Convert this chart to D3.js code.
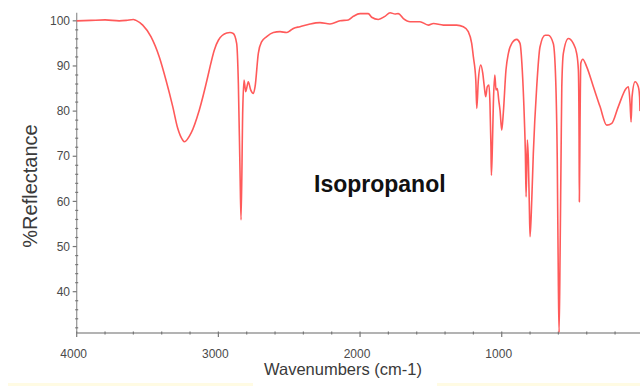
<!DOCTYPE html>
<html>
<head>
<meta charset="utf-8">
<script src="https://cdn.jsdelivr.net/npm/d3@7"></script>
<style>
  body { margin: 0; background: #fff; }
  svg { display: block; font-family: Arial, "Liberation Sans", sans-serif; }
</style>
</head>
<body>
<div id="chart"></div>
<script>
// spectrum (cm-1, %R)
const wavenumbers = [
  4000, 3900, 3800, 3700, 3650, 3600, 3581, 3534, 3476, 3417, 3370, 3322, 3287, 3252, 3240,
  3193, 3135, 3075, 3059, 3029, 3000, 2941, 2918, 2895, 2871, 2859, 2847, 2840, 2828, 2819,
  2807, 2789, 2772, 2753, 2741, 2718, 2694, 2659, 2612, 2565, 2518, 2494, 2471, 2424, 2353,
  2283, 2212, 2141, 2083, 2047, 2000, 1942, 1918, 1871, 1824, 1788, 1753, 1730, 1694, 1647,
  1577, 1518, 1482, 1412, 1318, 1271, 1236, 1212, 1200, 1183, 1176, 1165, 1148, 1134, 1123,
  1113, 1102, 1090, 1083, 1076, 1073, 1066, 1059, 1049, 1040, 1031, 1021, 1012, 1000, 989,
  970, 953, 929, 894, 871, 855, 840, 833, 828, 819, 812, 805, 800, 788, 777,
  753, 730, 694, 671, 636, 619, 608, 600, 595, 588, 581, 576, 565, 530, 495,
  471, 459, 454, 452, 447, 442, 428, 400, 353, 306, 259, 223, 177, 122, 106,
  94, 87, 80, 59, 36, 27, 24
];
const reflectance = [
  100.0, 100.1, 100.2, 100.0, 100.1, 100.3, 100.1, 99.05, 96.5, 92.0, 86.9, 81.0, 76.2, 73.6, 73.2,
  75.1, 80.2, 87.6, 89.8, 93.5, 95.7, 97.3, 97.4, 97.2, 95.0, 86.2, 66.3, 55.9, 80.2, 86.9,
  84.3, 86.5, 84.7, 83.9, 85.4, 92.8, 95.4, 96.5, 97.4, 97.6, 97.4, 97.8, 98.3, 98.7, 99.3,
  99.6, 99.3, 100.0, 100.2, 101.0, 101.6, 101.6, 100.8, 100.3, 101.0, 101.8, 101.5, 101.6, 100.5, 99.8,
  99.8, 99.05, 99.4, 99.05, 99.05, 98.7, 97.6, 95.0, 92.0, 86.9, 80.6, 86.9, 90.2, 88.4, 85.4,
  83.2, 85.4, 85.8, 81.7, 72.1, 65.8, 72.1, 81.7, 88.0, 84.7, 85.0, 82.4, 80.2, 75.8, 79.5,
  89.1, 92.8, 95.0, 95.9, 95.0, 89.1, 78.0, 70.6, 61.0, 73.6, 69.2, 58.8, 52.2, 60.3, 70.6,
  85.4, 94.2, 96.8, 96.8, 95.0, 86.9, 69.2, 41.1, 31.0, 48.6, 70.7, 85.4, 92.8, 96.1, 95.0,
  92.8, 89.1, 74.3, 59.9, 78.0, 90.6, 91.5, 89.8, 85.4, 81.0, 76.9, 77.3, 81.0, 85.0, 85.4,
  81.7, 77.6, 83.2, 86.5, 85.4, 83.2, 80.0
];
const yMajorTicks = [40, 50, 60, 70, 80, 90, 100];
const xMajorTicks = [4000, 3000, 2000, 1000];
const sampleName = 'Isopropanol';

const W = 640, H = 386;
const svg = d3.select('#chart').append('svg').attr('width', W).attr('height', H);

const x = d3.scaleLinear().domain([4000, 0]).range([76.7, 643.4]);
const y = d3.scaleLinear().domain([30.85, 101.8]).range([333, 12.7]);

const axisColor = '#9a9a9a';
const labelColor = '#4a4a4a';

// faint strip along the bottom edge
svg.append('rect').attr('x', 8).attr('y', 383).attr('width', 245).attr('height', 3).attr('fill', '#fffbe3');
svg.append('rect').attr('x', 437).attr('y', 383).attr('width', 203).attr('height', 3).attr('fill', '#fffbe3');

// y axis
const yAxis = svg.append('g');
yAxis.append('line')
  .attr('x1', x(4000)).attr('x2', x(4000))
  .attr('y1', y(101.8)).attr('y2', y(30.85))
  .attr('stroke', axisColor).attr('stroke-width', 1.3);
yAxis.selectAll('.minor')
  .data(d3.range(32, 101, 2).filter(v => v % 10 !== 0))
  .join('line')
  .attr('x1', x(4000) - 1.5).attr('x2', x(4000) + 1.5)
  .attr('y1', d => y(d)).attr('y2', d => y(d))
  .attr('stroke', '#777').attr('stroke-width', 1.2);
yAxis.selectAll('.major')
  .data(yMajorTicks)
  .join('line')
  .attr('x1', x(4000) - 4).attr('x2', x(4000))
  .attr('y1', d => y(d)).attr('y2', d => y(d))
  .attr('stroke', '#777').attr('stroke-width', 1.2);
yAxis.selectAll('text')
  .data(yMajorTicks)
  .join('text')
  .attr('x', 70).attr('y', d => y(d) + 4.2)
  .attr('text-anchor', 'end')
  .attr('font-size', 12).attr('fill', labelColor)
  .text(d => d);

// x axis
const xAxis = svg.append('g');
xAxis.append('line')
  .attr('x1', x(4000)).attr('x2', W)
  .attr('y1', y(30.85)).attr('y2', y(30.85))
  .attr('stroke', axisColor).attr('stroke-width', 1.3);
xAxis.selectAll('.minor')
  .data(d3.range(200, 4000, 200).filter(v => v % 1000 !== 0))
  .join('line')
  .attr('x1', d => x(d)).attr('x2', d => x(d))
  .attr('y1', y(30.85) - 1.5).attr('y2', y(30.85) + 1.5)
  .attr('stroke', '#777').attr('stroke-width', 1.2);
xAxis.selectAll('.major')
  .data(xMajorTicks)
  .join('line')
  .attr('x1', d => x(d)).attr('x2', d => x(d))
  .attr('y1', y(30.85) - 1.5).attr('y2', y(30.85) + 4)
  .attr('stroke', '#777').attr('stroke-width', 1.2);
xAxis.selectAll('text')
  .data(xMajorTicks)
  .join('text')
  .attr('x', d => x(d) - 3).attr('y', 358)
  .attr('text-anchor', 'middle')
  .attr('font-size', 12).attr('fill', labelColor)
  .text(d => d);

// axis titles
svg.append('text')
  .attr('x', 343).attr('y', 375)
  .attr('text-anchor', 'middle')
  .attr('font-size', 16.5).attr('fill', '#3a3a3a')
  .text('Wavenumbers (cm-1)');
svg.append('text')
  .attr('transform', 'translate(37,186) rotate(-90)')
  .attr('text-anchor', 'middle')
  .attr('font-size', 20).attr('fill', '#3a3a3a')
  .text('%Reflectance');

// spectrum
const pts = wavenumbers.map((w, i) => [w, reflectance[i]]);
const line = d3.line()
  .x(d => x(d[0]))
  .y(d => y(d[1]))
  .curve(d3.curveMonotoneX);
svg.append('path')
  .datum(pts)
  .attr('d', line)
  .attr('fill', 'none')
  .attr('stroke', '#ff5a5a')
  .attr('stroke-width', 1.6)
  .attr('stroke-linejoin', 'round');

// sample name
svg.append('text')
  .attr('x', 314).attr('y', 191.5)
  .attr('font-size', 23).attr('font-weight', 'bold').attr('fill', '#111')
  .text(sampleName);
</script>
</body>
</html>
